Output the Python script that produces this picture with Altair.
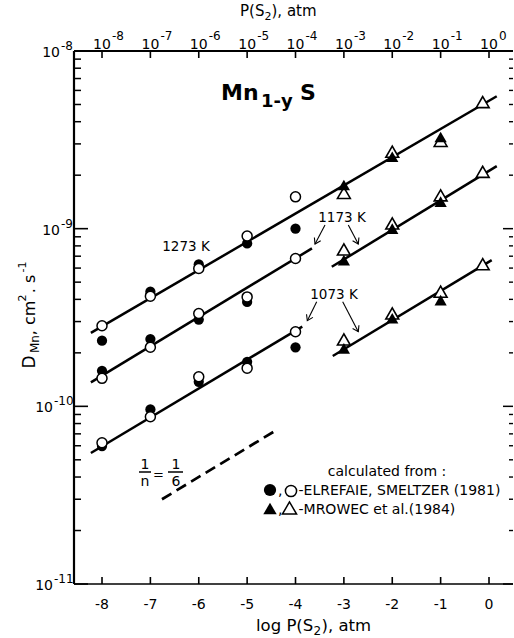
import math

import altair as alt
import pandas as pd

FONT = "DejaVu Sans"

# ---------------------------------------------------------------- data
# log P(S2) of the measurements
x_elrefaie = [-8, -7, -6, -5, -4]
x_mrowec = [-3, -2, -1]
x_mrowec_open = [-3, -2, -1, -0.13]

# D_Mn (cm^2/s), Elrefaie & Smeltzer (1981): filled / open circles
d1273_fc = [2.34e-10, 4.42e-10, 6.30e-10, 8.26e-10, 1.00e-9]
d1273_oc = [2.84e-10, 4.17e-10, 5.97e-10, 9.08e-10, 1.51e-9]
d1173_fc = [1.585e-10, 2.39e-10, 3.08e-10, 3.87e-10]
d1173_oc = [1.437e-10, 2.15e-10, 3.33e-10, 4.13e-10, 6.79e-10]
d1073_fc = [5.98e-11, 9.61e-11, 1.375e-10, 1.78e-10, 2.15e-10]
d1073_oc = [6.24e-11, 8.74e-11, 1.466e-10, 1.64e-10, 2.63e-10]

# D_Mn (cm^2/s), Mrowec et al. (1984): filled / open triangles
d1273_ft = [1.76e-9, 2.54e-9, 3.28e-9]
d1273_ot = [1.59e-9, 2.71e-9, 3.12e-9, 5.16e-9]
d1173_ft = [6.65e-10, 1.00e-9, 1.42e-9]
d1173_ot = [7.64e-10, 1.07e-9, 1.54e-9, 2.09e-9]
d1073_ft = [2.12e-10, 3.13e-10, 3.96e-10]
d1073_ot = [2.38e-10, 3.33e-10, 4.42e-10, 6.31e-10]

# fitted lines of slope 1/6 (segment end points)
seg_id = ["1273", "1173a", "1173b", "1073a", "1073b"]
seg_x0 = [-8.23, -8.23, -3.25, -8.23, -3.23]
seg_x1 = [0.16, -3.66, 0.16, -3.86, 0.056]
seg_d0 = [2.59e-10, 1.365e-10, 6.10e-10, 5.46e-11, 1.92e-10]
seg_d1 = [5.56e-9, 7.74e-10, 2.25e-9, 2.81e-10, 6.65e-10]

# reference slope 1/n = 1/6 (dashed)
ref_x = [-6.76, -4.39]
ref_d = [3.0e-11, 7.36e-11]

# axes
x_ticks = [-8, -7, -6, -5, -4, -3, -2, -1, 0]
x_tick_labels = ["-8", "-7", "-6", "-5", "-4", "-3", "-2", "-1", "0"]
top_exponents = ["-8", "-7", "-6", "-5", "-4", "-3", "-2", "-1", "0"]
y_decades = [1e-11, 1e-10, 1e-9, 1e-8]
y_exponents = ["-11", "-10", "-9", "-8"]
minor_mult = [2, 3, 4, 5, 6, 7, 8, 9]
y_minor = [m * d for d in y_decades[:-1] for m in minor_mult]

# ---------------------------------------------------------------- layout
LEFT, TOP = 74, 51
W, H = 439, 533
xs = alt.Scale(domain=[-8.579, 0.496], nice=False, zero=False)
ys = alt.Scale(type="log", domain=[1e-11, 1e-8], nice=False)


def X(f):
    return alt.X(f"{f}:Q", scale=xs, axis=None)


def Y(f):
    return alt.Y(f"{f}:Q", scale=ys, axis=None)


one = pd.DataFrame({"k": [0]})


def txt(s, px, py, size=14, align="left", baseline="alphabetic", weight="normal", angle=0):
    return alt.Chart(one).mark_text(
        text=s, font=FONT, fontSize=size, align=align, baseline=baseline,
        fontWeight=weight, angle=angle, color="black",
    ).encode(x=alt.value(px - LEFT), y=alt.value(py - TOP))


def hrule(x0, x1, y, w=1.5):
    return alt.Chart(one).mark_rule(color="black", strokeWidth=w).encode(
        x=alt.value(x0 - LEFT), x2=alt.value(x1 - LEFT), y=alt.value(y - TOP))


def pts(xv, dv):
    return pd.DataFrame({"x": xv[: len(dv)], "d": dv})


circ_f = pd.concat([pts(x_elrefaie, d) for d in (d1273_fc, d1173_fc, d1073_fc)])
circ_o = pd.concat([pts(x_elrefaie, d) for d in (d1273_oc, d1173_oc, d1073_oc)])
tri_f = pd.concat([pts(x_mrowec, d) for d in (d1273_ft, d1173_ft, d1073_ft)])
tri_o = pd.concat([pts(x_mrowec_open, d) for d in (d1273_ot, d1173_ot, d1073_ot)])

seg_df = pd.DataFrame({
    "seg": seg_id + seg_id,
    "x": seg_x0 + seg_x1,
    "d": seg_d0 + seg_d1,
})
ref_df = pd.DataFrame({"x": ref_x, "d": ref_d})

layers = []

# fitted lines
layers.append(alt.Chart(seg_df).mark_line(color="black", strokeWidth=2.5).encode(
    x=X("x"), y=Y("d"), detail="seg:N"))
layers.append(alt.Chart(ref_df).mark_line(color="black", strokeWidth=2.7, strokeDash=[11, 6]).encode(
    x=X("x"), y=Y("d")))

# data points
layers.append(alt.Chart(tri_o).mark_point(shape="triangle-up", size=165, filled=True, fill="white",
                                          stroke="black", strokeWidth=1.6, opacity=1).encode(x=X("x"), y=Y("d")))
layers.append(alt.Chart(tri_f).mark_point(shape="triangle-up", size=150, filled=True, color="black",
                                          opacity=1).encode(x=X("x"), y=Y("d")))
layers.append(alt.Chart(circ_f).mark_point(shape="circle", size=105, filled=True, color="black",
                                           opacity=1).encode(x=X("x"), y=Y("d")))
layers.append(alt.Chart(circ_o).mark_point(shape="circle", size=100, filled=True, fill="white",
                                           stroke="black", strokeWidth=1.5, opacity=1).encode(x=X("x"), y=Y("d")))

# frame (left, top, bottom)
layers.append(alt.Chart(one).mark_rule(color="black", strokeWidth=2.2).encode(
    x=alt.value(0), y=alt.value(0), y2=alt.value(H)))
layers.append(alt.Chart(one).mark_rule(color="black", strokeWidth=2.2).encode(
    x=alt.value(0), x2=alt.value(W), y=alt.value(0)))
layers.append(alt.Chart(one).mark_rule(color="black", strokeWidth=1.6).encode(
    x=alt.value(0), x2=alt.value(W), y=alt.value(H)))

# inward ticks
xt = pd.DataFrame({"v": x_ticks, "lab": x_tick_labels, "e": top_exponents})
yt = pd.DataFrame({"d": y_decades, "e": y_exponents})
ym = pd.DataFrame({"d": y_minor})
layers.append(alt.Chart(xt).mark_rule(color="black", strokeWidth=1.6).encode(
    x=X("v"), y=alt.value(H - 7), y2=alt.value(H)))
layers.append(alt.Chart(xt).mark_rule(color="black", strokeWidth=1.6).encode(
    x=X("v"), y=alt.value(0), y2=alt.value(7)))
layers.append(alt.Chart(yt).mark_rule(color="black", strokeWidth=1.6).encode(
    y=Y("d"), x=alt.value(0), x2=alt.value(14)))
layers.append(alt.Chart(ym).mark_rule(color="black", strokeWidth=1.5).encode(
    y=Y("d"), x=alt.value(0), x2=alt.value(7)))
layers.append(alt.Chart(yt).mark_rule(color="black", strokeWidth=1.5).encode(
    y=Y("d"), x=alt.value(W - 10), x2=alt.value(W)))
layers.append(alt.Chart(ym).mark_rule(color="black", strokeWidth=1.4).encode(
    y=Y("d"), x=alt.value(W - 4), x2=alt.value(W)))

# tick labels: bottom (log P), top (P), left (D)
layers.append(alt.Chart(xt).mark_text(font=FONT, fontSize=14, align="center", baseline="alphabetic").encode(
    x=X("v"), y=alt.value(H + 25), text="lab:N"))
layers.append(alt.Chart(xt).mark_text(font=FONT, fontSize=14, align="center", baseline="alphabetic",
                                      text="10").encode(x=X("v"), y=alt.value(-2)))
layers.append(alt.Chart(xt).mark_text(font=FONT, fontSize=12, align="left", baseline="alphabetic",
                                      dx=10).encode(x=X("v"), y=alt.value(-11), text="e:N"))
yt1 = yt[yt["e"].str.len() == 2]
yt2 = yt[yt["e"].str.len() == 3]
for sub, right in ((yt1, -14), (yt2, -21)):
    layers.append(alt.Chart(sub).mark_text(font=FONT, fontSize=14, align="right", baseline="alphabetic",
                                           dy=6, text="10").encode(y=Y("d"), x=alt.value(right)))
    layers.append(alt.Chart(sub).mark_text(font=FONT, fontSize=12, align="left", baseline="alphabetic",
                                           dy=-1).encode(y=Y("d"), x=alt.value(right + 1), text="e:N"))

# axis titles
layers += [
    txt("P(S", 240, 16, 15), txt("2", 264.5, 20, 11), txt("), atm", 271.5, 16, 15),
    txt("log P(S", 256, 631, 16.5), txt("2", 313.5, 635, 12), txt("), atm", 321.5, 631, 16.5),
]
# rotated D_Mn title
layers += [
    txt("D", 30, 362, 17, "center", "middle", angle=270),
    txt("Mn", 35, 344, 12, "center", "middle", angle=270),
    txt(", cm", 30, 318, 16, "center", "middle", angle=270),
    txt("2", 23, 298, 11, "center", "middle", angle=270),
    txt(". s", 30, 284, 16, "center", "middle", angle=270),
    txt("-1", 23, 267, 11, "center", "middle", angle=270),
]

# compound name
layers += [
    txt("Mn", 221, 100, 22, "left", weight="bold"),
    txt("1-y", 261, 107, 18, "left", weight="bold"),
    txt("S", 300, 99.5, 22, "left", weight="bold"),
]

# temperature labels and arrows
layers += [
    txt("1273 K", 186, 251, 13.5, "center"),
    txt("1173 K", 342, 221.5, 13.5, "center"),
    txt("1073 K", 334, 299, 13.5, "center"),
]
arrows = [((325, 225), (315, 244)), ((348.3, 225), (358.3, 244)),
          ((316.7, 301.7), (307.3, 320.7)), ((342.7, 301.7), (358.3, 331.7))]
for (x0, y0), (x1, y1) in arrows:
    layers.append(alt.Chart(one).mark_rule(color="black", strokeWidth=1.1).encode(
        x=alt.value(x0 - LEFT), x2=alt.value(x1 - LEFT), y=alt.value(y0 - TOP), y2=alt.value(y1 - TOP)))
    ang = math.degrees(math.atan2(y1 - y0, x1 - x0)) % 360
    layers.append(alt.Chart(one).mark_point(
        shape="M -1 -0.65 L 0 0 L -1 0.65", size=120, filled=False, stroke="black",
        strokeWidth=1.1, opacity=1, angle=ang,
    ).encode(x=alt.value(x1 - LEFT), y=alt.value(y1 - TOP)))

# 1/n = 1/6
layers += [
    txt("1", 145, 469, 14, "center"), hrule(139, 151, 472), txt("n", 145, 486, 14, "center"),
    txt("=", 158.5, 479, 13, "center"),
    txt("1", 176, 469, 14, "center"), hrule(168, 183, 472), txt("6", 176, 486, 14, "center"),
]

# legend
layers += [
    txt("calculated from :", 387, 476, 14, "center"),
    alt.Chart(one).mark_point(shape="circle", size=150, filled=True, color="black", opacity=1).encode(
        x=alt.value(270 - LEFT), y=alt.value(490 - TOP)),
    txt(",", 278, 495, 14),
    alt.Chart(one).mark_point(shape="circle", size=125, filled=True, fill="white", stroke="black",
                              strokeWidth=1.5, opacity=1).encode(x=alt.value(291 - LEFT), y=alt.value(491 - TOP)),
    txt("-ELREFAIE, SMELTZER (1981)", 298.5, 495, 14),
    alt.Chart(one).mark_point(shape="triangle-up", size=180, filled=True, color="black", opacity=1).encode(
        x=alt.value(270 - LEFT), y=alt.value(508.5 - TOP)),
    txt(",", 278, 513.5, 14),
    alt.Chart(one).mark_point(shape="triangle-up", size=200, filled=True, fill="white", stroke="black",
                              strokeWidth=1.5, opacity=1).encode(x=alt.value(289.5 - LEFT), y=alt.value(508 - TOP)),
    txt("-MROWEC et al.(1984)", 298.5, 513.5, 14),
]

chart = alt.layer(*layers).properties(
    width=W, height=H,
    padding={"left": LEFT, "top": TOP, "right": 514 - LEFT - W, "bottom": 638 - TOP - H},
    autosize="none",
    background="white",
).configure_view(stroke=None)

chart.save("out.html", embed_options={"renderer": "svg", "actions": False})
